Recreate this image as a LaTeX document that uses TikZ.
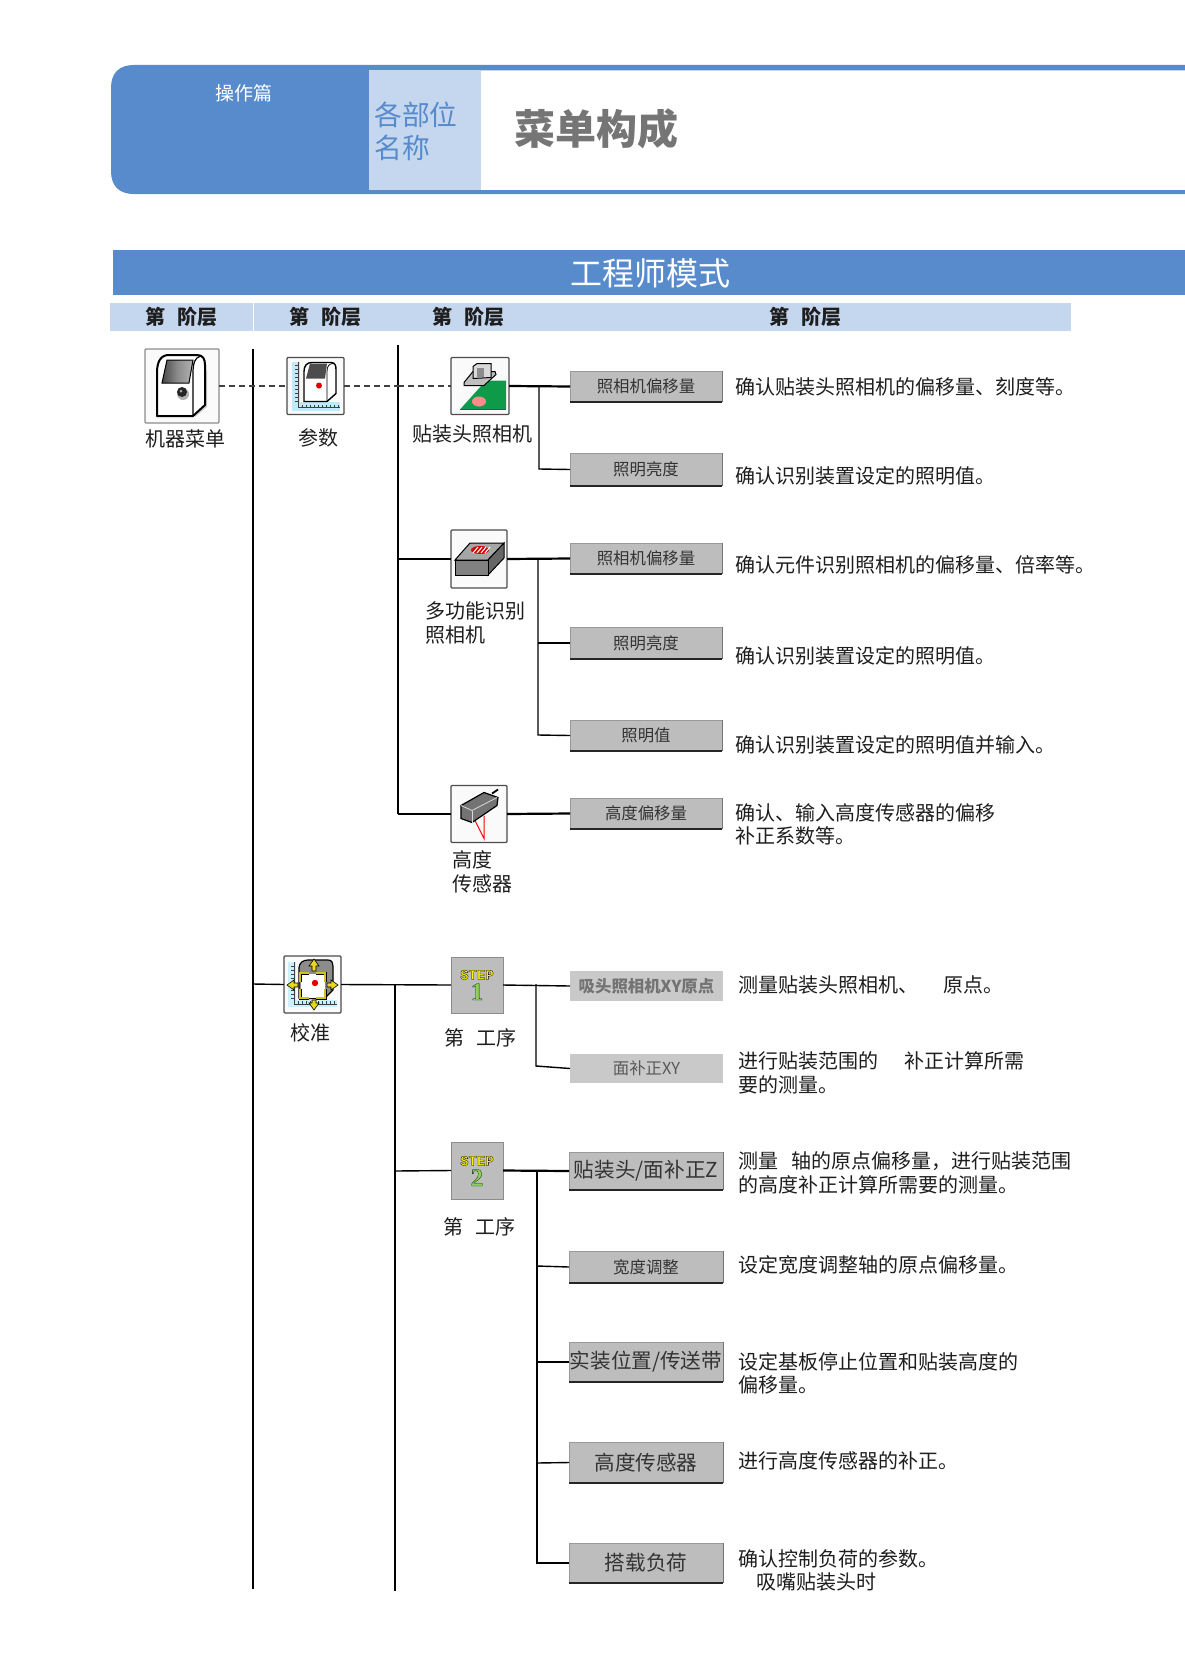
\documentclass[tikz,border=0pt]{standalone}
\usepackage{fontspec}
\setmainfont{Noto Sans CJK SC}
\newfontfamily\stepfont{Liberation Mono}[BoldFont=Liberation Mono Bold]
\newfontfamily\digitfont{Liberation Serif}[BoldFont=Liberation Serif Bold]
\definecolor{hblue}{HTML}{588BCB}
\definecolor{hlight}{HTML}{C5D7EF}
\definecolor{btngray}{HTML}{BDBDBD}
\definecolor{titlegray}{HTML}{757575}
\definecolor{ink}{HTML}{1E1E1E}
\definecolor{pcbgreen}{HTML}{0F9A4A}
\definecolor{palegreen}{HTML}{8FD05A}
\definecolor{arrowy}{HTML}{E8D820}
\newcommand{\fs}[1]{\fontsize{#1}{#1}\selectfont}
\newcommand{\outl}[2]{\special{pdf:literal direct 2 Tr 0.3 w #1 RG}#2\special{pdf:literal direct 0 Tr}}
\newcommand{\stepmark}[1]{{\stepfont\bfseries\fontsize{14}{15}\selectfont\textcolor{yellow}{\outl{0 0 0}{STEP}}}\\{\digitfont\bfseries\fontsize{25}{15}\selectfont\textcolor{palegreen}{\outl{0 0.2 0}{#1}}}}
\tikzset{
  txt/.style={inner sep=0pt,outer sep=0pt,text=ink,font=\fs{20}},
  ltxt/.style={txt,anchor=west},
  htxt/.style={inner sep=0pt,text=ink,font=\fs{20}\bfseries},
  iconbox/.style={draw=black!70,line width=1.2pt,fill=black!2,inner sep=0pt,outer sep=0pt,rounded corners=1pt},
  stepbox/.style={draw=black!45,line width=.8pt,fill=btngray,inner sep=0pt,outer sep=0pt},
  stepmarkfont/.style={inner sep=0pt,align=center,font=\fontsize{14}{20.5}\selectfont},
  btn/.style={fill=btngray,inner sep=0pt,outer sep=0pt,text=black!80,font=\fs{16.4},minimum width=152pt},
  bigbtn/.style={btn,font=\fs{20.6}},
  flatbtn/.style={fill=black!21,inner sep=0pt,outer sep=0pt,minimum width=153pt},
  conn/.style={line width=1.4pt,black},
  thick conn/.style={line width=2.2pt,black},
  dashconn/.style={line width=1.2pt,black!75,dash pattern=on 6pt off 4pt},
  edge/.style={line width=1pt,black!40},
  dedge/.style={line width=1.6pt,black!85},
  ol/.style={line width=1.2pt,black},
}
\newcommand{\bevel}[1]{%
  \draw[edge] (#1.south west) -- (#1.north west) -- (#1.north east);
  \draw[dedge] (#1.south west) -- (#1.south east);
  \draw[edge,black!55] (#1.north east) -- (#1.south east);
}
\begin{document}
\begin{tikzpicture}[x=1pt,y=-1pt]
\useasboundingbox[fill=white] (0,0) rectangle (1185,1675);
% header
\fill[hblue] (1185,65) -- (134,65) .. controls (119,65) and (111,73) .. (111,88) -- (111,171) .. controls (111,186) and (119,194) .. (134,194) -- (1185,194) -- (1185,190) -- (369,190) -- (369,70.5) -- (1185,70.5) -- cycle;
\fill[hlight] (369,70.5) rectangle (481,190);
\node[inner sep=0pt,text=white,font=\fs{19}] (hop) at (243.5,93) {操作篇};
\node[inner sep=0pt,anchor=west,text=hblue,font=\fs{27.8}] (hpart) at (374,114.5) {各部位};
\node[inner sep=0pt,anchor=west,text=hblue,font=\fs{27.8}] (hname) at (374,147.5) {名称};
\node[inner sep=0pt,anchor=west,text=titlegray,font=\fs{41}\bfseries] (htitle) at (514,129) {菜单构成};
% banner
\fill[hblue] (113,250) rectangle (1185,295);
\node[inner sep=0pt,text=white,font=\fs{32}] (banner) at (650,273) {工程师模式};
\fill[hlight] (110,303) rectangle (1071,331);
\draw[white,line width=1pt] (253,303) -- (253,331);
\node[htxt] (h1) at (181,317) {第\hspace{12pt}阶层};
\node[htxt] (h2) at (325,317) {第\hspace{12pt}阶层};
\node[htxt] (h3) at (468,317) {第\hspace{12pt}阶层};
\node[htxt] (h4) at (805,317) {第\hspace{12pt}阶层};
% coordinates for trunks
\coordinate (t1a) at (253,349);
\coordinate (t1b) at (253,1589);
\coordinate (t2a) at (398,345);
\coordinate (t2b) at (398,814);
\coordinate (t3a) at (395,984);
\coordinate (t3b) at (395,1591);
\coordinate (b1) at (539,386);
\coordinate (b1e) at (539,469);
\coordinate (b2) at (538,559);
\coordinate (b2m) at (538,643);
\coordinate (b2e) at (538,735);
\coordinate (b3) at (536,984);
\coordinate (b3e) at (536,1066);
\coordinate (b4) at (537,1171);
\coordinate (b4a) at (537,1266);
\coordinate (b4b) at (537,1362);
\coordinate (b4c) at (537,1463);
\coordinate (b4e) at (537,1563);
\coordinate (j2) at (398,386);
\coordinate (j3) at (398,559);
\coordinate (j1) at (253,984);
\coordinate (j4) at (395,1171);
% icons
\node[iconbox,draw=black!45,minimum width=74pt,minimum height=74pt] (imach) at (182,386) {};
\node[iconbox,minimum width=57pt,minimum height=57pt] (ipar) at (315.5,386) {};
\node[iconbox,minimum width=58pt,minimum height=57pt] (icam) at (480,386) {};
\node[iconbox,minimum width=56pt,minimum height=58pt] (imul) at (479,559) {};
\node[iconbox,minimum width=56pt,minimum height=57pt] (isen) at (479,814) {};
\node[iconbox,minimum width=57pt,minimum height=57pt] (ical) at (312.5,984.5) {};
\node[stepbox,minimum width=52pt,minimum height=56pt] (is1) at (477,985) {};
\node[stepbox,minimum width=52pt,minimum height=57pt] (is2) at (477,1170.5) {};
% buttons
\node[btn,minimum height=31pt] (a1) at (646,386.5) {照相机偏移量};
\node[btn,minimum height=33pt] (a2) at (646,469.5) {照明亮度};
\node[btn,minimum height=31pt] (a3) at (646,558.5) {照相机偏移量};
\node[btn,minimum height=32pt] (a4) at (646,643) {照明亮度};
\node[btn,minimum height=31pt] (a5) at (646,735.5) {照明值};
\node[btn,minimum height=31pt] (a6) at (646,813.5) {高度偏移量};
\node[flatbtn,minimum height=30pt,text=black!55,font=\fs{16.4}\bfseries] (a7) at (646.5,986) {吸头照相机XY原点};
\node[flatbtn,minimum height=29pt,text=black!65,font=\fs{16.4}] (a8) at (646.5,1068.5) {面补正XY};
\node[bigbtn,minimum height=38pt,minimum width=154pt] (a9) at (646,1171) {贴装头/面补正Z};
\node[btn,minimum height=32pt,minimum width=154pt] (a10) at (646,1267) {宽度调整};
\node[bigbtn,minimum height=40pt,minimum width=154pt] (a11) at (646,1362) {实装位置/传送带};
\node[bigbtn,minimum height=41pt,minimum width=154pt] (a12) at (646,1462.5) {高度传感器};
\node[bigbtn,minimum height=40pt,minimum width=154pt] (a13) at (646,1563) {搭载负荷};
\bevel{a1}\bevel{a2}\bevel{a3}\bevel{a4}\bevel{a5}\bevel{a6}\bevel{a9}\bevel{a10}\bevel{a11}\bevel{a12}\bevel{a13}
% connectors
\draw[conn] (t1a) -- (t1b);
\draw[thick conn] (t2a) -- (t2b);
\draw[conn] (t3a) -- (t3b);
\draw[dashconn] (imach.east) -- (ipar.west);
\draw[dashconn] (ipar.east) -- (j2);
\draw[dashconn] (j2) -- (icam.west);
\draw[thick conn] (icam.east) -- (a1.west);
\draw[conn] (b1) -- (b1e) -- (a2.west);
\draw[conn] (j3) -- (imul.west);
\draw[thick conn] (imul.east) -- (a3.west);
\draw[conn] (b2) -- (b2e) -- (a5.west);
\draw[conn] (b2m) -- (a4.west);
\draw[thick conn] (t2b) -- (isen.west);
\draw[thick conn] (isen.east) -- (a6.west);
\draw[conn] (j1) -- (ical.west);
\draw[conn] (ical.east) -- (is1.west);
\draw[conn] (is1.east) -- (a7.west);
\draw[conn] (b3) -- (b3e) -- (a8.west);
\draw[conn] (j4) -- (is2.west);
\draw[thick conn] (is2.east) -- (a9.west);
\draw[conn] (b4) -- (b4e) -- (a13.west);
\draw[conn] (b4a) -- (a10.west);
\draw[conn] (b4b) -- (a11.west);
\draw[conn] (b4c) -- (a12.west);
% machine icon
\begin{scope}[shift={(imach.north west)}]
  \fill[black!18] (50,68) -- (62,58) -- (62,20) -- cycle;
  \draw[ol,line width=2pt,fill=white,line join=round] (12,67) -- (12,24) .. controls (12,12) and (16,6) .. (24,6) -- (52,6) .. controls (58,6) and (60,10) .. (60,16) -- (60,56) -- (48,67) -- cycle;
  \draw[ol,line width=1.2pt] (48,67) -- (48,24) .. controls (48,14) and (50,8) .. (56,7);
  \shade[left color=black!72,right color=black!30,middle color=black!45] (17,34) -- (44,34) -- (48,11) -- (22,11) -- cycle;
  \draw[ol,line width=1pt] (17,34) -- (44,34) -- (48,11) -- (22,11) -- cycle;
  \fill[black!30] (38,45) circle (6);
  \fill[black!85] (37,43) circle (5);
  \fill[black!35] (36,42) circle (1.5);
\end{scope}
% parameter icon
\begin{scope}[shift={(ipar.north west)}]
  \fill[cyan!25!white] (5,4) rectangle (13,53);
  \fill[cyan!25!white] (5,44) rectangle (53,53);
  \draw[black!75,line width=1pt] (11,4) -- (11,50) -- (53,50);
  \foreach \t in {8,12,...,44} \draw[black!75,line width=.8pt] (8,\t) -- (11,\t);
  \foreach \t in {15,19,...,51} \draw[black!75,line width=.8pt] (\t,50) -- (\t,47);
  \draw[ol,line width=1.4pt,fill=white] (17,44) -- (17,14) .. controls (17,8) and (20,5) .. (25,5) -- (44,5) .. controls (48,5) and (49,8) .. (49,12) -- (49,36) -- (40,44) -- cycle;
  \draw[ol,line width=.8pt] (40,44) -- (40,14) .. controls (40,9) and (42,6) .. (46,6);
  \fill[black!70] (19,21) -- (38,21) -- (40,6) -- (23,6) -- cycle;
  \fill[red!90!black] (32,28) circle (3);
\end{scope}
% camera icon
\begin{scope}[shift={(icam.north west)}]
  \fill[pcbgreen] (9,52) -- (55,52) -- (55,23) -- (35,23) -- cycle;
  \draw[black!70,line width=.8pt] (9,52) -- (55,52);
  \fill[red!45!white] (28,44) ellipse (7 and 5);
  \draw[ol,line width=1pt,fill=black!25] (13,28) -- (33,28) -- (45,17) -- (44,14) -- (22,14) -- (13,25) -- cycle;
  \draw[ol,line width=1pt,fill=black!15] (22,9) -- (26,6) -- (40,6) -- (40,20) -- (22,21) -- cycle;
  \fill[black!45] (26,10) rectangle (33,19);
\end{scope}
% multi camera icon
\begin{scope}[shift={(imul.north west)}]
  \draw[ol,line width=1pt,fill=black!35] (4,30) -- (19,13) -- (53,13) -- (37,30) -- cycle;
  \draw[ol,line width=1pt,fill=black!60] (37,30) -- (53,13) -- (53,28) -- (37,45) -- cycle;
  \draw[ol,line width=1pt,fill=black!50] (4,30) rectangle (37,45);
  \fill[red!85!black] (29,20) ellipse (9 and 4);
  \foreach \t in {-5,-1,3,7} \draw[white,line width=1pt] (29+\t-2,23) -- (29+\t+3,17);
\end{scope}
% sensor icon
\begin{scope}[shift={(isen.north west)}]
  \draw[black,line width=1.8pt] (41,8) -- (47,4);
  \draw[red,line width=1pt] (24,35) -- (33,53) -- (33,30);
  \draw[ol,fill=black!55] (10,20) -- (33,7) -- (47,12) -- (46,20) -- (21,37) -- (10,33) -- cycle;
  \draw[black!15,line width=.8pt] (10,20) -- (21,25) -- (46,12);
  \draw[black!15,line width=.8pt] (21,25) -- (21,37);
\end{scope}
% calibration icon
\begin{scope}[shift={(ical.north west)}]
  \fill[cyan!20!white] (4,6) rectangle (12,50);
  \fill[cyan!20!white] (4,44) rectangle (53,51);
  \draw[black!75,line width=.9pt] (10,6) -- (10,48) -- (53,48);
  \foreach \t in {10,14,...,44} \draw[black!75,line width=.7pt] (7,\t) -- (10,\t);
  \foreach \t in {14,18,...,50} \draw[black!75,line width=.7pt] (\t,48) -- (\t,45);
  \draw[ol,fill=black!45] (15,42) -- (15,12) .. controls (15,7) and (19,4) .. (24,4) -- (44,4) .. controls (48,4) and (49,7) .. (49,10) -- (49,34) -- (40,43) -- cycle;
  \fill[white] (17,18) rectangle (41,42);
  \foreach \ax/\ay/\bx/\by/\cx/\cy in {16/26/16/17/25/17,32/17/41/17/41/26,41/33/41/42/32/42,25/42/16/42/16/33} {
    \draw[black,line width=3pt] (\ax,\ay) -- (\bx,\by) -- (\cx,\cy);
    \draw[arrowy!90!black,line width=1.6pt] (\ax,\ay) -- (\bx,\by) -- (\cx,\cy);
  }
  \fill[red!90!black] (31,27) circle (3.2);
  \draw[black,line width=.6pt,fill=arrowy] (30,3) -- (35,10) -- (32,10) -- (32,15) -- (28,15) -- (28,10) -- (25,10) -- cycle;
  \draw[black,line width=.6pt,fill=arrowy] (30,54) -- (35,47) -- (32,47) -- (32,44) -- (28,44) -- (28,47) -- (25,47) -- cycle;
  \draw[black,line width=.6pt,fill=arrowy] (3,29) -- (10,24) -- (10,27) -- (14,27) -- (14,31) -- (10,31) -- (10,34) -- cycle;
  \draw[black,line width=.6pt,fill=arrowy] (54,29) -- (47,24) -- (47,27) -- (43,27) -- (43,31) -- (47,31) -- (47,34) -- cycle;
\end{scope}
% step icons
\node[stepmarkfont] (s1t) at (477,985) {\stepmark{1}};
\node[stepmarkfont] (s2t) at (477,1171) {\stepmark{2}};
% icon labels
\node[txt] (lm) at (185,439) {机器菜单};
\node[txt] (lp) at (318,438) {参数};
\node[txt] (lc) at (472,434) {贴装头照相机};
\node[ltxt] (lu1) at (425,611) {多功能识别};
\node[ltxt] (lu2) at (425,635) {照相机};
\node[ltxt] (ls1) at (452,860) {高度};
\node[ltxt] (ls2) at (452,884) {传感器};
\node[txt] (lcal) at (310,1033) {校准};
\node[txt] (ls1t) at (480,1038) {第\hspace{12pt}工序};
\node[txt] (ls2t) at (479,1227) {第\hspace{12pt}工序};
% descriptions
\node[ltxt] (d1) at (735,387) {确认贴装头照相机的偏移量、刻度等。};
\node[ltxt] (d2) at (735,476) {确认识别装置设定的照明值。};
\node[ltxt] (d3) at (735,565) {确认元件识别照相机的偏移量、倍率等。};
\node[ltxt] (d4) at (735,656) {确认识别装置设定的照明值。};
\node[ltxt] (d5) at (735,745) {确认识别装置设定的照明值并输入。};
\node[ltxt] (d6) at (735,813) {确认、输入高度传感器的偏移};
\node[ltxt] (d7) at (735,836) {补正系数等。};
\node[ltxt] (d8) at (738,985) {测量贴装头照相机、\hspace{25pt}原点。};
\node[ltxt] (d9) at (738,1061) {进行贴装范围的\hspace{26pt}补正计算所需};
\node[ltxt] (d10) at (738,1085) {要的测量。};
\node[ltxt] (d11) at (738,1161) {测量\hspace{13pt}轴的原点偏移量，进行贴装范围};
\node[ltxt] (d12) at (738,1185) {的高度补正计算所需要的测量。};
\node[ltxt] (d13) at (738,1265) {设定宽度调整轴的原点偏移量。};
\node[ltxt] (d14) at (738,1362) {设定基板停止位置和贴装高度的};
\node[ltxt] (d15) at (738,1385) {偏移量。};
\node[ltxt] (d16) at (738,1461) {进行高度传感器的补正。};
\node[ltxt] (d17) at (738,1559) {确认控制负荷的参数。};
\node[ltxt] (d18) at (756,1582) {吸嘴贴装头时};
\end{tikzpicture}
\end{document}
